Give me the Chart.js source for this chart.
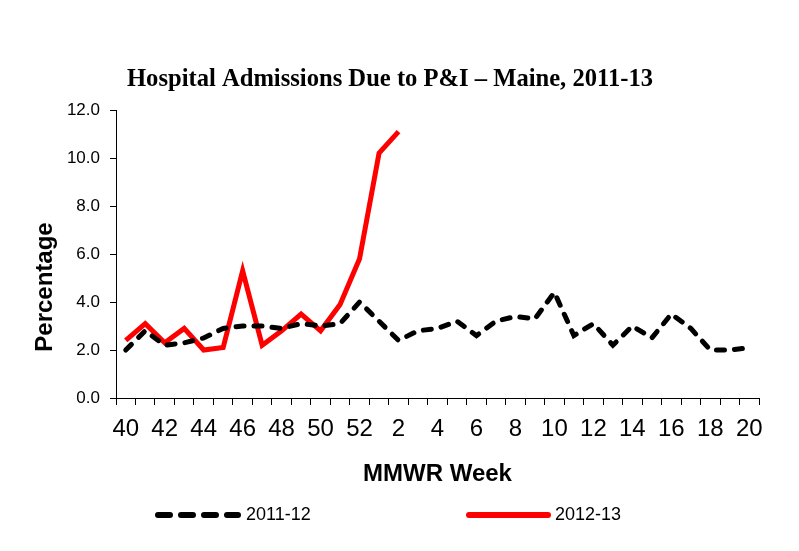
<!DOCTYPE html>
<html>
<head>
<meta charset="utf-8">
<script src="https://cdn.jsdelivr.net/npm/chart.js@4/dist/chart.umd.min.js"></script>
<style>
  html, body { margin: 0; padding: 0; background: #ffffff; }
  #wrap { width: 799px; height: 551px; }
</style>
</head>
<body>
<div id="wrap"><canvas id="piChart" width="799" height="551"></canvas></div>
<script>
// MMWR weeks, season runs week 40 to week 20
const weeks = [40, 41, 42, 43, 44, 45, 46, 47, 48, 49, 50, 51, 52,
  1, 2, 3, 4, 5, 6, 7, 8, 9, 10, 11, 12, 13, 14, 15, 16, 17, 18, 19, 20];

// 2011-12 season (full)
const season1112 = [2.0, 2.8, 2.2, 2.3, 2.5, 2.9, 3.0, 3.0, 2.9, 3.1, 3.0, 3.1, 4.0,
  3.2, 2.4, 2.8, 2.9, 3.2, 2.6, 3.2, 3.4, 3.3, 4.4, 2.6, 3.1, 2.2, 3.0, 2.5, 3.5, 2.9, 2.0, 2.0, 2.1];

// 2012-13 season (through week 2)
const season1213 = [2.4, 3.1, 2.3, 2.9, 2.0, 2.1, 5.3, 2.2, 2.8, 3.5, 2.8, 3.9, 5.8, 10.2, 11.1];

const yTicks = [0, 2, 4, 6, 8, 10, 12];

const sansFont = "'Liberation Sans', Arial, sans-serif";

// title, y axis label and legend are drawn by hand
const extrasPlugin = {
    id: "extras",
    afterDraw(chart) {
        const ctx = chart.ctx;
        ctx.save();
        ctx.fillStyle = "#000000";

        ctx.font = "bold 24.6px 'Liberation Serif', 'Times New Roman', serif";
        ctx.textAlign = "center";
        ctx.textBaseline = "alphabetic";
        ctx.fillText("Hospital Admissions Due to P&I \u2013 Maine, 2011-13", 390, 86);

        ctx.save();
        ctx.translate(45, 287);
        ctx.rotate(-Math.PI / 2);
        ctx.font = "bold 24px " + sansFont;
        ctx.textBaseline = "middle";
        ctx.fillText("Percentage", 0, 0);
        ctx.restore();

        const items = [
            { x0: 158, x1: 238, tx: 246 },
            { x0: 469, x1: 548, tx: 555 },
        ];
        chart.data.datasets.forEach(function (ds, i) {
            const it = items[i];
            const y = 515;
            ctx.beginPath();
            ctx.strokeStyle = ds.borderColor;
            ctx.lineWidth = 6;
            ctx.lineCap = "round";
            ctx.setLineDash(ds.borderDash ? [12, 11] : []);
            ctx.moveTo(it.x0, y);
            ctx.lineTo(it.x1, y);
            ctx.stroke();
            ctx.setLineDash([]);
            ctx.font = "18px " + sansFont;
            ctx.textAlign = "left";
            ctx.textBaseline = "middle";
            ctx.fillStyle = "#000000";
            ctx.fillText(ds.label, it.tx, y);
        });
        ctx.restore();
    },
};

const ctx = document.getElementById("piChart").getContext("2d");
const piChart = new Chart(ctx, {
    type: "line",
    data: {
        labels: weeks,
        datasets: [
            {
                label: "2011-12",
                data: season1112,
                borderColor: "#000000",
                borderWidth: 5,
                borderDash: [8, 10],
                borderCapStyle: "round",
                pointRadius: 0,
                tension: 0,
                fill: false,
            },
            {
                label: "2012-13",
                data: season1213,
                borderColor: "#ff0000",
                borderWidth: 5,
                pointRadius: 0,
                tension: 0,
                fill: false,
            },
        ],
    },
    options: {
        responsive: false,
        animation: false,
        layout: { padding: { top: 110, left: 0, right: 40, bottom: 62 } },
        plugins: {
            legend: { display: false },
            title: { display: false },
            tooltip: { enabled: false },
        },
        scales: {
            x: {
                type: "category",
                offset: true,
                grid: {
                    offset: true,
                    drawOnChartArea: false,
                    drawTicks: true,
                    tickLength: 7,
                    color: "#000000",
                },
                border: { display: true, color: "#000000", width: 1 },
                ticks: {
                    autoSkip: false,
                    maxRotation: 0,
                    padding: 10,
                    color: "#000000",
                    font: { family: sansFont, size: 24 },
                    callback: function (value, index) {
                        return index % 2 === 0 ? String(weeks[index]) : "";
                    },
                },
                title: {
                    display: true,
                    text: "MMWR Week",
                    color: "#000000",
                    font: { family: sansFont, size: 24, weight: "bold" },
                    padding: { top: 0, bottom: 0 },
                },
                afterFit: function (scale) { scale.height = 91; },
            },
            y: {
                min: 0,
                max: 12,
                grid: {
                    drawOnChartArea: false,
                    drawTicks: true,
                    tickLength: 6,
                    color: "#000000",
                },
                border: { display: true, color: "#000000", width: 1 },
                afterBuildTicks: function (scale) {
                    scale.ticks = yTicks.map(function (v) { return { value: v }; });
                },
                ticks: {
                    padding: 10,
                    color: "#000000",
                    font: { family: sansFont, size: 17 },
                    callback: function (value) { return Number(value).toFixed(1); },
                },
                afterFit: function (scale) { scale.width = 116; },
            },
        },
    },
    plugins: [extrasPlugin],
});
</script>
</body>
</html>
